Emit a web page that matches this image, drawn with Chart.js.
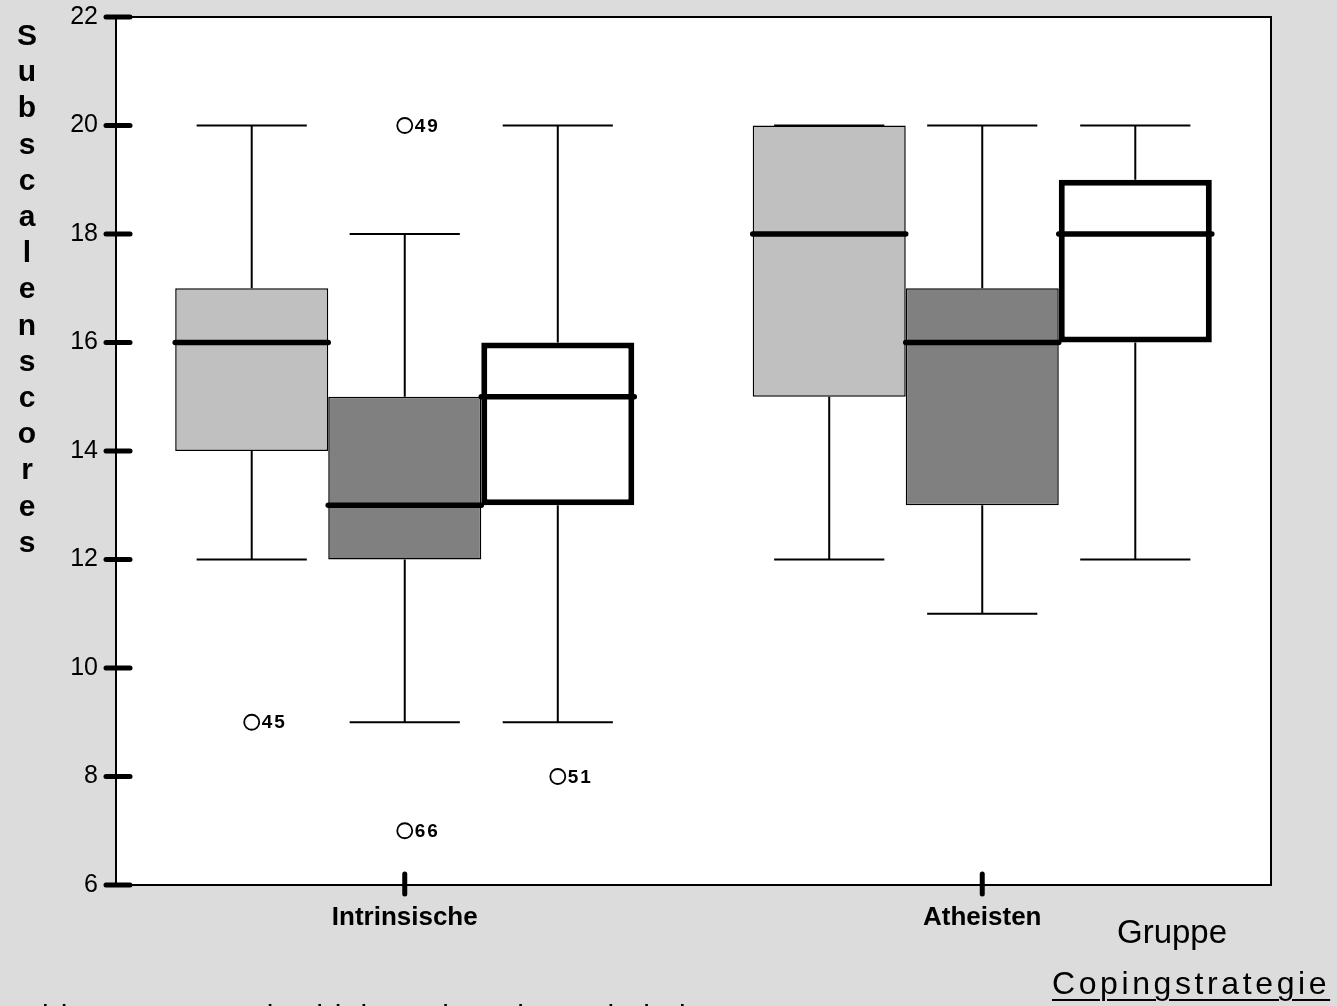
<!DOCTYPE html>
<html>
<head>
<meta charset="utf-8">
<script src="https://cdn.jsdelivr.net/npm/chart.js@4"></script>
<style>
  html, body { margin: 0; padding: 0; background: #dcdcdc; overflow: hidden; }
  #wrap { position: relative; width: 1337px; height: 1006px; overflow: hidden; }
  #chart { position: absolute; left: 0; top: 0; }
  .lbl { position: absolute; font-family: "Liberation Sans", Arial, sans-serif; color: #000; white-space: nowrap; line-height: 1; }
</style>
</head>
<body>
<div id="wrap">
  <canvas id="chart" width="1337" height="1006"></canvas>
  <div class="lbl" style="left:1117px; top:915px; font-size:33px;">Gruppe</div>
  <div class="lbl" style="left:1052px; top:967px; font-size:32px; letter-spacing:3.6px; text-decoration:underline; text-underline-offset:5px; text-decoration-thickness:2px;">Copingstrategie</div>
  <div class="lbl" style="left:20px; top:1001px; font-size:30px; letter-spacing:2px;">Abb. 1: Box- und Whisker-Plots der Subskalenscores</div>
</div>
<script>
const groups = ['Intrinsische', 'Atheisten'];
const seriesNames = ['Skala 1', 'Skala 2', 'Skala 3'];

// [series][group]
const whiskerLow  = [[12, 12], [9, 11], [9, 12]];
const quartile1   = [[14, 15], [12, 13], [13, 16]];
const medians     = [[16, 18], [13, 16], [15, 18]];
const quartile3   = [[17, 20], [15, 17], [16, 19]];
const whiskerHigh = [[20, 20], [18, 20], [20, 20]];

const outlierSeries = [0, 1, 1, 2];
const outlierGroup  = [0, 0, 0, 0];
const outlierValues = [9, 20, 7, 8];
const outlierCases  = ['45', '49', '66', '51'];

const yTitle = 'Subscalenscores';

const boxFills = ['#c0c0c0', '#808080', '#ffffff'];
const boxBorders = [1.5, 1.5, 6];
const FONT = '"Liberation Sans", Arial, sans-serif';

const boxPlugin = {
  id: 'boxPlugin',
  beforeDraw(chart) {
    const { ctx, chartArea: a } = chart;
    ctx.save();
    ctx.fillStyle = '#ffffff';
    ctx.fillRect(a.left, a.top, a.right - a.left, a.bottom - a.top);
    ctx.restore();
  },
  beforeDatasetsDraw(chart) {
    const { ctx } = chart;
    const y = chart.scales.y;
    ctx.save();
    ctx.strokeStyle = '#000';
    ctx.lineWidth = 2;
    seriesNames.forEach((s, i) => {
      chart.getDatasetMeta(i).data.forEach((el, j) => {
        const half = el.width * 0.36;
        const yLo = y.getPixelForValue(whiskerLow[i][j]);
        const yHi = y.getPixelForValue(whiskerHigh[i][j]);
        ctx.beginPath();
        ctx.moveTo(el.x, y.getPixelForValue(quartile3[i][j]));
        ctx.lineTo(el.x, yHi);
        ctx.moveTo(el.x, y.getPixelForValue(quartile1[i][j]));
        ctx.lineTo(el.x, yLo);
        ctx.moveTo(el.x - half, yHi);
        ctx.lineTo(el.x + half, yHi);
        ctx.moveTo(el.x - half, yLo);
        ctx.lineTo(el.x + half, yLo);
        ctx.stroke();
      });
    });
    ctx.restore();
  },
  afterDatasetsDraw(chart) {
    const { ctx, chartArea: a } = chart;
    const y = chart.scales.y;
    const x = chart.scales.x;
    ctx.save();
    // medians
    ctx.strokeStyle = '#000';
    ctx.lineWidth = 5.5;
    ctx.lineCap = 'round';
    seriesNames.forEach((s, i) => {
      chart.getDatasetMeta(i).data.forEach((el, j) => {
        const py = y.getPixelForValue(medians[i][j]);
        ctx.beginPath();
        ctx.moveTo(el.x - el.width / 2, py);
        ctx.lineTo(el.x + el.width / 2, py);
        ctx.stroke();
      });
    });
    // outliers
    ctx.lineCap = 'butt';
    ctx.lineWidth = 1.8;
    ctx.fillStyle = '#000';
    ctx.font = 'bold 19px "Liberation Sans Narrow", ' + FONT;
    ctx.textBaseline = 'middle';
    ctx.letterSpacing = '2px';
    outlierValues.forEach((v, k) => {
      const el = chart.getDatasetMeta(outlierSeries[k]).data[outlierGroup[k]];
      const py = y.getPixelForValue(v);
      ctx.beginPath();
      ctx.arc(el.x, py, 7.5, 0, Math.PI * 2);
      ctx.stroke();
      ctx.fillText(outlierCases[k], el.x + 10, py + 1);
    });
    ctx.letterSpacing = '0px';
    // frame
    ctx.lineWidth = 2;
    ctx.strokeRect(a.left, a.top, a.right - a.left, a.bottom - a.top);
    // y tick marks
    ctx.lineWidth = 5;
    ctx.lineCap = 'round';
    y.ticks.forEach((t, k) => {
      const py = y.getPixelForTick(k);
      ctx.beginPath();
      ctx.moveTo(a.left - 10, py);
      ctx.lineTo(a.left + 14, py);
      ctx.stroke();
    });
    // x tick marks
    x.ticks.forEach((t, k) => {
      const px = x.getPixelForTick(k);
      ctx.beginPath();
      ctx.moveTo(px, a.bottom - 11);
      ctx.lineTo(px, a.bottom + 9);
      ctx.stroke();
    });
    // y title, stacked letters
    ctx.font = 'bold 30px ' + FONT;
    ctx.textAlign = 'center';
    ctx.textBaseline = 'alphabetic';
    [...yTitle].forEach((c, k) => {
      ctx.fillText(c, 27, 45 + k * 36.2);
    });
    ctx.restore();
  }
};

new Chart(document.getElementById('chart'), {
  type: 'bar',
  data: {
    labels: groups,
    datasets: seriesNames.map((name, i) => ({
      label: name,
      data: groups.map((g, j) => [quartile1[i][j], quartile3[i][j]]),
      backgroundColor: boxFills[i],
      borderColor: '#000',
      borderWidth: boxBorders[i],
      borderSkipped: false,
      categoryPercentage: 0.795,
      barPercentage: 1
    }))
  },
  options: {
    responsive: false,
    animation: false,
    layout: { padding: { top: 17, right: 66, left: 0, bottom: 0 } },
    plugins: { legend: { display: false }, tooltip: { enabled: false } },
    scales: {
      x: {
        grid: { display: false, drawTicks: false },
        border: { display: false },
        ticks: { color: '#000', padding: 17, font: { family: FONT, size: 26, weight: 'bold' } },
        afterFit(s) { s.height = 121; s.paddingLeft = 0; s.paddingRight = 0; }
      },
      y: {
        min: 6,
        max: 22,
        grid: { display: false, drawTicks: false },
        border: { display: false },
        ticks: { stepSize: 2, color: '#000', padding: 18, font: { family: FONT, size: 25 } },
        afterFit(s) { s.width = 116; s.paddingTop = 0; s.paddingBottom = 0; }
      }
    }
  },
  plugins: [boxPlugin]
});
</script>
</body>
</html>
